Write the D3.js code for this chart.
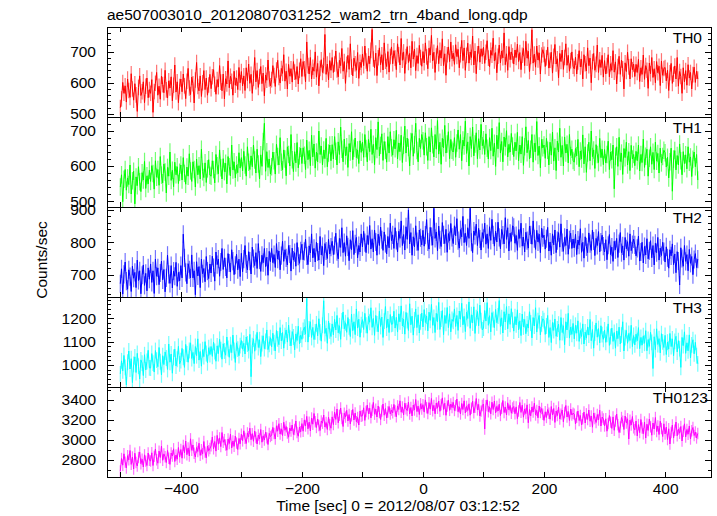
<!DOCTYPE html>
<html><head><meta charset="utf-8">
<script src="https://cdn.jsdelivr.net/npm/d3@7"></script>
<style>
body{margin:0;background:#fff}
text{font-family:"Liberation Sans",Arial,Helvetica,sans-serif}
</style>
</head><body>
<svg id="chart" width="717" height="516"></svg>
<script>
const title = "ae507003010_20120807031252_wam2_trn_4band_long.qdp";
const xLabel = "Time [sec] 0 = 2012/08/07 03:12:52";
const yLabel = "Counts/sec";
const bands = ["TH0", "TH1", "TH2", "TH3", "TH0123"];
const colors = ["#ff0000", "#00ff00", "#0000ff", "#00ffff", "#ff00ff"];

// time bins (sec): first bin and bin width
const tStart = -500, tStep = 2;

const th0 = [
520,548,601,566,590,538,612,575,553,629,580,544,597,561,508,585,622,559,571,603,536,589,615,552,578,
566,610,505,572,598,633,560,589,547,621,594,568,640,577,551,606,583,619,542,592,657,570,603,536,588,
612,571,628,590,549,605,646,583,562,618,597,535,609,665,588,574,622,556,600,639,578,615,560,593,627,
581,619,642,595,563,610,587,655,602,574,628,548,613,596,670,584,621,605,560,637,592,615,578,649,600,
636,590,622,575,648,607,660,598,627,566,614,681,603,639,585,620,652,597,631,558,625,608,673,612,590,
610,655,623,588,641,672,617,599,646,630,690,605,637,580,659,621,645,602,668,634,611,652,596,640,677,
620,668,645,603,731,655,628,681,612,650,637,699,618,662,590,646,674,633,655,755,627,660,609,671,640,
681,633,660,702,641,619,672,655,710,637,668,598,659,688,643,725,650,622,679,661,640,697,614,666,649,
692,655,718,670,637,686,661,704,771,676,648,695,623,680,712,658,690,641,728,669,652,700,634,684,715,
661,703,679,642,725,690,657,742,672,699,630,684,716,665,694,648,733,676,708,639,687,662,720,681,653,
700,664,728,683,645,711,689,752,670,698,633,686,719,661,704,679,741,655,693,624,690,715,668,731,677,
695,659,722,684,707,648,690,736,671,712,640,688,727,663,699,681,750,657,702,629,693,718,666,709,685,
714,662,698,735,679,651,704,688,743,670,697,632,685,721,664,702,680,760,658,693,640,716,674,699,687,
660,705,681,724,668,697,642,688,710,655,733,679,701,636,684,770,663,692,650,718,673,696,628,689,706,
691,652,680,714,647,672,698,631,685,723,660,677,616,694,668,705,643,681,725,656,688,637,671,699,653,
645,682,628,667,703,651,676,612,690,661,638,712,655,679,600,668,694,640,659,721,633,674,649,688,618,
671,628,655,690,619,661,640,703,634,667,596,652,685,627,673,645,580,664,636,698,651,612,677,642,660,
620,659,633,675,604,648,627,689,611,655,640,582,663,629,681,617,645,600,668,632,653,591,670,624,646,
649,606,640,575,632,662,598,627,654,612,681,589,636,620,566,648,603,639,592,658,615,633,580,626,650,
601,637,612];

const th1 = [
540,575,498,562,590,531,566,547,603,520,558,585,492,569,544,598,555,527,581,560,613,536,572,549,588,
556,601,579,534,615,568,590,545,627,574,552,606,583,523,596,571,640,559,588,541,611,575,598,550,582,
603,560,624,579,548,597,571,635,586,556,612,590,540,620,575,601,563,648,584,567,609,553,592,618,574,
571,615,590,552,633,601,578,646,595,563,621,584,608,549,627,598,572,660,589,612,566,603,581,638,594,
624,586,642,603,571,655,611,590,629,598,660,617,580,648,606,563,632,599,670,722,585,641,596,620,577,
598,640,615,577,662,627,603,681,611,589,646,620,572,655,633,600,690,618,584,641,609,667,595,629,651,
607,652,631,590,674,618,645,601,688,626,663,594,640,612,700,633,657,603,646,621,679,598,637,660,615,
661,620,684,642,603,669,633,711,648,612,677,629,655,596,664,640,698,618,651,680,624,646,607,672,639,
668,625,690,650,612,676,641,705,633,662,604,681,647,726,629,659,692,616,670,645,611,684,637,698,652,
631,675,649,702,620,666,641,688,610,659,714,637,680,653,600,670,693,628,661,722,644,612,679,650,690,
672,631,695,655,616,684,640,709,661,626,690,648,730,634,668,605,679,652,716,637,663,698,621,676,645,
640,681,625,666,703,648,690,615,674,657,728,636,669,600,684,650,711,629,663,695,621,678,646,719,658,
675,633,692,651,620,681,644,708,628,665,599,688,649,724,637,670,612,683,655,701,626,662,640,693,657,
627,668,643,696,615,660,634,684,602,655,712,638,673,620,648,690,611,665,641,727,630,657,595,676,652,
660,622,679,645,603,668,631,697,614,652,587,671,640,708,625,659,600,683,637,662,609,690,630,648,616,
611,650,629,676,598,643,620,689,606,655,582,637,668,615,700,627,646,593,661,633,610,679,624,648,604,
647,609,633,671,590,640,618,660,535,628,655,599,682,613,637,576,650,624,668,603,641,587,659,620,633,
601,642,615,660,586,633,610,677,596,628,648,571,622,655,605,639,590,668,614,636,580,651,609,627,645,
638,597,625,566,612,651,528,620,644,589,630,603,663,615,575,641,607,632,592,655,611,626,570,619,640,
598,633,560];

const th2 = [
672,718,640,701,739,680,655,715,694,648,726,689,707,660,745,682,712,641,698,730,667,704,650,721,686,
733,676,712,642,748,695,721,669,705,742,684,716,647,690,760,701,673,728,659,711,695,738,664,707,681,
728,690,825,752,707,672,734,715,690,761,690,712,638,740,696,725,660,748,703,719,678,756,711,688,733,
705,757,722,680,770,731,748,695,739,781,716,752,724,690,765,736,708,777,742,700,729,763,715,748,694,
766,709,748,790,733,715,771,742,702,785,750,728,768,719,796,745,710,760,737,781,725,754,698,772,740,
781,737,762,722,796,748,773,715,759,803,741,777,752,730,790,764,711,782,745,768,726,799,757,735,774,
794,746,772,810,758,731,789,767,826,752,781,739,800,770,745,818,761,787,728,796,773,750,809,764,785,
803,762,790,828,771,749,812,784,845,768,799,757,820,786,743,808,777,836,762,795,815,752,790,770,826,
786,834,799,768,821,793,852,779,811,770,838,801,760,825,790,847,808,775,832,796,764,818,783,859,805,
823,781,845,806,770,834,812,866,790,824,776,848,809,900,795,830,760,817,786,851,802,775,838,814,792,
837,788,822,870,801,779,846,818,791,905,812,832,774,850,808,787,861,823,796,840,769,827,805,858,815,
796,851,820,873,805,782,839,817,880,799,828,790,845,812,905,800,768,835,821,856,790,843,810,776,830,
812,859,794,826,781,848,806,871,823,788,834,801,862,815,780,840,822,795,876,809,845,773,828,803,851,
846,797,821,775,839,812,859,788,816,770,831,805,782,850,823,794,866,811,778,837,801,825,768,844,814,
822,779,811,846,773,801,760,826,792,838,768,805,830,785,857,799,772,815,790,841,763,808,828,781,810,
783,825,762,807,791,842,769,800,751,817,786,768,829,796,775,838,804,759,812,790,833,770,801,822,788,
770,808,746,791,824,762,785,741,803,777,812,753,796,830,768,789,745,815,780,802,757,826,774,793,810,
792,758,781,819,742,770,800,736,787,761,811,749,774,805,752,790,730,797,768,815,745,782,759,800,771,
739,786,752,720,777,758,795,731,764,706,771,742,668,783,750,726,790,741,762,712,778,735,756,700,747,
765,722,748];

const th3 = [
962,1018,975,1041,990,915,1012,1060,983,1027,925,1003,1035,968,1050,995,940,1022,1008,955,1044,979,1015,1063,988,
987,1049,1008,970,1062,1021,993,1075,1014,958,1040,1002,1056,1030,981,1090,1012,1047,965,1033,1068,996,1025,1080,1005,
1019,1071,1033,990,1088,1047,1012,1062,1095,1028,1054,1006,1079,1040,1112,1021,1058,995,1066,1036,1100,1049,1010,1074,1045,
1079,1037,1098,1058,1016,1082,1049,1110,1066,1025,1091,1060,1042,1120,1071,1033,1087,1053,1128,1062,1011,1095,1068,1040,1083,
1105,1068,1093,1047,1120,1090,1062,1131,950,1083,1112,1059,1097,1140,1075,1108,1036,1092,1125,1070,1101,1150,1066,1089,1117,
1078,1136,1095,1060,1148,1112,1087,1160,1103,1139,1072,1125,1150,1098,1171,1115,1082,1143,1120,1065,1133,1105,1166,1091,1128,
1110,1148,1162,1132,1285,1098,1154,1185,1118,1161,1109,1142,1176,1125,1198,1140,1102,1170,1275,1135,1157,1093,1188,1146,1122,
1176,1129,1195,1150,1212,1138,1168,1110,1189,1227,1155,1181,1140,1203,1163,1122,1218,1147,1185,1130,1240,1158,1196,1119,1172,
1194,1152,1221,1170,1136,1208,1183,1245,1161,1199,1127,1212,1176,1142,1230,1165,1205,1118,1188,1250,1158,1197,1139,1216,1174,
1176,1230,1158,1204,1141,1219,1185,1253,1167,1196,1132,1225,1190,1148,1262,1172,1209,1128,1193,1240,1160,1215,1137,1185,1222,
1163,1237,1182,1210,1146,1226,1191,1259,1170,1203,1139,1221,1185,1268,1152,1197,1233,1130,1212,1178,1246,1160,1219,1142,1195,
1187,1240,1165,1212,1148,1231,1196,1264,1172,1208,1143,1226,1199,1270,1157,1215,1180,1249,1135,1202,1229,1168,1256,1190,1150,
1158,1233,1188,1267,1170,1211,1142,1224,1195,1160,1238,1181,1210,1276,1165,1202,1137,1228,1184,1250,1155,1219,1174,1241,1192,
1145,1207,1172,1236,1150,1189,1126,1218,1163,1195,1134,1176,1158,1228,1180,1116,1203,1167,1245,1141,1190,1212,1129,1176,1198,
1190,1131,1167,1212,1118,1160,1096,1182,1148,1197,1123,1154,1175,1106,1203,1139,1168,1087,1185,1150,1221,1115,1162,1131,1178,
1112,1170,1136,1189,1101,1148,1122,1176,1090,1141,1115,1163,1128,1195,1104,1152,1072,1137,1180,1119,1156,1095,1168,1130,1110,
1150,1097,1131,1176,1084,1122,1158,1101,1139,1072,1145,1113,1162,1090,1128,1185,1060,1117,1148,1093,1135,1105,1170,1079,1126,
1086,1132,1104,1160,1070,1118,1085,1125,1093,1147,1061,1109,1080,1140,1097,985,1121,1066,1155,1088,1113,1052,1134,1099,1075,
1127,1045,1098,1068,1135,1079,1112,1040,1101,1123,1056,1104,1070,990,1118,1083,1142,1050,1095,1061,1129,1030,1086,1108,1048,
1097,1040,1005];

const th0123 = [
2690,2815,2748,2862,2779,2720,2843,2801,2895,2756,2830,2710,2868,2775,2740,2825,2880,2763,2808,2730,2852,2789,2745,2870,2798,
2790,2872,2745,2836,2910,2803,2768,2889,2825,2940,2797,2861,2832,2775,2895,2818,2756,2870,2840,2912,2785,2850,2808,2925,2829,
2905,2818,2946,2872,2990,2853,2921,2840,3012,2897,2950,2868,2830,2925,2885,2968,2846,2903,2862,2985,2879,2822,2940,2893,2915,
2941,3030,2912,2985,2889,3046,2958,3021,2934,3075,2977,3004,2950,2898,3010,2965,3058,2920,2990,2937,3040,2969,2905,3015,2962,
3058,2991,3092,3016,2965,3071,3032,3118,3003,3064,2987,3089,3025,2960,3050,3010,3105,2978,3042,3000,3080,3021,2955,3066,3035,
3047,3126,3065,3010,3142,3088,3163,3059,3112,3045,3178,3097,3135,3070,3028,3120,3090,3150,3055,3105,3190,3075,3038,3130,3082,
3164,3088,3201,3140,3236,3112,3179,3090,3220,3158,3265,3183,3125,3210,3145,3095,3190,3168,3250,3130,3175,3105,3228,3152,3118,
3231,3154,3278,3206,3310,3172,3247,3320,3215,3135,3268,3229,3296,3190,3255,3160,3242,3305,3200,3270,3182,3225,3150,3290,3238,
3243,3322,3196,3285,3350,3262,3318,3221,3297,3376,3258,3309,3230,3340,3275,3205,3290,3360,3248,3315,3220,3280,3335,3260,3300,
3271,3356,3290,3232,3341,3305,3392,3278,3330,3250,3368,3312,3294,3380,3260,3325,3240,3350,3300,3405,3285,3338,3255,3362,3310,
3353,3279,3401,3322,3265,3374,3308,3415,3291,3346,3262,3370,3318,3390,3287,3352,3421,3305,3368,3247,3339,3398,3296,3360,3325,
3376,3295,3344,3410,3283,3331,3260,3365,3305,3392,3270,3336,3295,3362,3248,3318,3390,3272,3327,3415,3301,3356,3240,3289,3345,
3360,3110,3344,3401,3283,3331,3262,3378,3305,3390,3270,3336,3290,3358,3245,3318,3395,3275,3330,3250,3372,3301,3345,3268,3320,
3335,3262,3331,3214,3290,3375,3276,3348,3228,3310,3264,3352,3172,3305,3241,3330,3280,3368,3250,3296,3222,3340,3275,3315,3258,
3196,3282,3225,3305,3267,3208,3335,3250,3315,3176,3290,3244,3330,3210,3259,3300,3182,3275,3345,3230,3285,3195,3310,3250,3268,
3258,3160,3227,3290,3195,3245,3150,3212,3280,3170,3262,3205,3300,3188,3240,3128,3270,3215,3175,3255,3200,3298,3140,3230,3210,
3140,3212,3088,3165,3245,3179,3116,3231,3097,3190,3260,3153,3075,3130,3225,3189,3105,3240,3170,3212,3010,3198,3150,3235,3122,
3102,3190,3041,3154,3074,3205,3120,3063,3180,3020,3158,3095,3210,3132,3048,3170,3110,3225,3085,3140,3055,3188,3115,3035,3162,
3060,3130,3004,3112,2960,3075,3150,3020,3098,3180,3042,3110,3068,3135,2990,3088,3162,3030,3105,3058,3140,3010,3092,3125,3045,
3080,3020,3065];

const series = [th0, th1, th2, th3, th0123];
const errs = [25, 25, 28, 34, 57];

const yDomains = [[490, 779], [483, 740], [631, 909], [906, 1291], [2630, 3530]];
const yMajor = [[500, 600, 700], [500, 600, 700], [700, 800, 900], [1000, 1100, 1200], [2800, 3000, 3200, 3400]];
const yMinorStep = [20, 20, 20, 20, 100];
const xDomain = [-522, 477.5];
const xMajor = [-400, -200, 0, 200, 400];
const xTickVals = [-500, -400, -300, -200, -100, 0, 100, 200, 300, 400];

// layout
const L = 107, R = 712, T = 27, PH = 90;
const labelRight = [702, 702, 702, 702, 708];

const svg = d3.select("#chart");
const x = d3.scaleLinear().domain(xDomain).range([L, R]);
const binW = x(tStep) - x(0);

svg.append("text").attr("x", L).attr("y", 19.5).attr("font-size", 15.5).attr("fill", "#000").text(title);

series.forEach((vals, i) => {
  const top = T + i * PH, bot = top + PH;
  const y = d3.scaleLinear().domain(yDomains[i]).range([bot, top]);
  const g = svg.append("g");
  const cid = "clip" + i;
  svg.append("clipPath").attr("id", cid).append("rect").attr("x", L).attr("y", top).attr("width", R - L).attr("height", PH);
  const data = vals.map((v, k) => ({t: tStart + k * tStep, v}));
  const pg = g.append("g").attr("clip-path", `url(#${cid})`);
  pg.selectAll("line.err").data(data).join("line").attr("class", "err")
    .attr("x1", d => x(d.t)).attr("x2", d => x(d.t))
    .attr("y1", d => y(d.v - errs[i])).attr("y2", d => y(d.v + errs[i]))
    .attr("stroke", colors[i]).attr("stroke-opacity", 0.55).attr("stroke-width", binW);
  pg.append("path").datum(data)
    .attr("d", d3.line().x(d => x(d.t)).y(d => y(d.v)))
    .attr("fill", "none").attr("stroke", colors[i]).attr("stroke-width", 1);

  // axes
  const [d0, d1] = yDomains[i];
  const minors = d3.range(Math.ceil(d0 / yMinorStep[i]) * yMinorStep[i], d1, yMinorStep[i]);
  const styleAxis = sel => { sel.select(".domain").remove(); sel.selectAll("line").attr("stroke", "#000").attr("shape-rendering", "crispEdges"); sel.selectAll("text").attr("font-size", 15.5).attr("fill", "#000").attr("font-family", '"Liberation Sans",Arial,sans-serif'); };
  g.append("g").attr("transform", `translate(${L},0)`).call(d3.axisLeft(y).tickValues(minors).tickSize(-4).tickFormat("")).call(styleAxis);
  g.append("g").attr("transform", `translate(${L},0)`).call(d3.axisLeft(y).tickValues(yMajor[i]).tickSize(-7).tickPadding(11).tickFormat(d3.format("d"))).call(styleAxis);
  g.append("g").attr("transform", `translate(${R},0)`).call(d3.axisRight(y).tickValues(minors).tickSize(-4).tickFormat("")).call(styleAxis);
  g.append("g").attr("transform", `translate(${R},0)`).call(d3.axisRight(y).tickValues(yMajor[i]).tickSize(-7).tickFormat("")).call(styleAxis);
  g.append("g").attr("transform", `translate(0,${top})`).call(d3.axisTop(x).tickValues(xTickVals).tickSize(-5).tickFormat("")).call(styleAxis);
  const bx = g.append("g").attr("transform", `translate(0,${bot})`);
  if (i === series.length - 1) {
    bx.call(d3.axisBottom(x).tickValues(xTickVals).tickSize(-5).tickPadding(5.5)
      .tickFormat(d => xMajor.includes(d) ? d3.format("d")(d) : "")).call(styleAxis);
  } else {
    bx.call(d3.axisBottom(x).tickValues(xTickVals).tickSize(-5).tickFormat("")).call(styleAxis);
  }
  g.append("rect").attr("x", L + 0.5).attr("y", top + 0.5).attr("width", R - L - 1).attr("height", PH)
    .attr("fill", "none").attr("stroke", "#000").attr("stroke-width", 1);
  g.append("text").attr("x", labelRight[i]).attr("y", top + 15.5).attr("text-anchor", "end")
    .attr("font-size", 15.5).attr("fill", "#000").text(bands[i]);
});

svg.append("text").attr("transform", "translate(46.5,260) rotate(-90)").attr("text-anchor", "middle")
  .attr("font-size", 15.5).attr("fill", "#000").text(yLabel);
svg.append("text").attr("x", 398).attr("y", 511).attr("text-anchor", "middle")
  .attr("font-size", 15.5).attr("fill", "#000").text(xLabel);
</script>
</body></html>
